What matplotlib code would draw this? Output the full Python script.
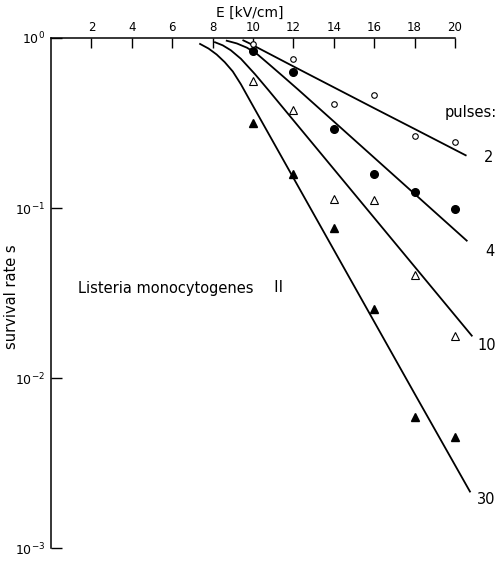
import numpy as np
import matplotlib.pyplot as plt
from matplotlib.ticker import NullLocator

# 测量点：电场强度 E 和存活率 s
e_meas = [10, 12, 14, 16, 18, 20]
s_2 = [0.92, 0.75, 0.41, 0.46, 0.265, 0.245]
s_4 = [0.84, 0.63, 0.293, 0.158, 0.124, 0.098]
s_10 = [0.556, 0.377, 0.113, 0.111, 0.0404, 0.0177]
s_30 = [0.315, 0.158, 0.076, 0.0254, 0.00587, 0.00448]

# 拟合曲线（log10 s）
fit_e_2 = [9.52, 9.8, 10.1, 12, 14, 16, 18, 20.53]
fit_log_2 = [-0.014, -0.030, -0.049, -0.167, -0.290, -0.413, -0.535, -0.690]
fit_e_4 = [8.7, 9.2, 9.7, 10.2, 10.8, 11.5, 12.24, 14, 16, 18, 20.58]
fit_log_4 = [-0.016, -0.032, -0.057, -0.094, -0.155, -0.227, -0.304, -0.491, -0.704, -0.917, -1.192]
fit_e_10 = [8.12, 8.5, 8.9, 9.4, 10.1, 10.76, 12, 14, 16, 18, 20.83]
fit_log_10 = [-0.025, -0.043, -0.072, -0.122, -0.213, -0.306, -0.484, -0.771, -1.058, -1.345, -1.751]
fit_e_30 = [7.38, 7.8, 8.2, 8.6, 9.0, 9.4, 9.85, 12, 14, 16, 18, 20.74]
fit_log_30 = [-0.035, -0.062, -0.097, -0.142, -0.197, -0.272, -0.368, -0.823, -1.246, -1.669, -2.092, -2.668]

pulse_labels = ["2", "4", "10", "30"]

W, H = 497, 563
fig = plt.figure(figsize=(W / 100, H / 100), dpi=100)
ax = fig.add_axes([51 / W, 1 - 548 / H, (455 - 51) / W, (548 - 38) / H])

ax.set_yscale("log")
ax.set_xlim(0, 20)
ax.set_ylim(1e-3, 1)

# 只保留左边和上边的坐标轴
ax.spines["right"].set_visible(False)
ax.spines["bottom"].set_visible(False)
ax.spines["left"].set_linewidth(1.1)
ax.spines["top"].set_linewidth(1.1)

ax.xaxis.tick_top()
ax.set_xticks(range(2, 21, 2))
ax.tick_params(axis="x", direction="in", length=7, width=1, labelsize=8.5, pad=3)
ax.set_yticks([1e-3, 1e-2, 1e-1, 1])
ax.set_yticklabels(["$10^{-3}$", "$10^{-2}$", "$10^{-1}$", "$10^{0}$"])
ax.yaxis.set_minor_locator(NullLocator())
ax.tick_params(axis="y", direction="in", length=8, width=1, labelsize=9, pad=4)

# 曲线
for e, lg in [(fit_e_2, fit_log_2), (fit_e_4, fit_log_4),
              (fit_e_10, fit_log_10), (fit_e_30, fit_log_30)]:
    ax.plot(e, np.power(10.0, lg), color="black", lw=1.3, clip_on=False, zorder=2)

# 数据点
ax.plot(e_meas, s_2, "o", ms=4, mfc="white", mec="black", mew=0.8, zorder=3, clip_on=False)
ax.plot(e_meas, s_4, "o", ms=5.5, mfc="black", mec="black", zorder=3, clip_on=False)
ax.plot(e_meas, s_10, "^", ms=5.5, mfc="white", mec="black", mew=0.8, zorder=3, clip_on=False)
ax.plot(e_meas, s_30, "^", ms=5.5, mfc="black", mec="black", zorder=3, clip_on=False)

# 文字
fig.text(250 / W, 1 - 13 / H, "E [kV/cm]", ha="center", va="center", fontsize=10)
fig.text(12 / W, 1 - 297 / H, "survival rate s", rotation=90,
         ha="center", va="center", fontsize=10.5)
fig.text(78 / W, 1 - 288 / H, "Listeria monocytogenes", ha="left", va="center", fontsize=10.5)
fig.text(278 / W, 1 - 288 / H, "Ⅱ", ha="center", va="center", fontsize=11,
         family=["Noto Sans CJK JP", "DejaVu Sans"])
fig.text(445 / W, 1 - 113 / H, "pulses:", ha="left", va="center", fontsize=10.5)
for lab, xpx, ypx in zip(pulse_labels, [484, 485, 477, 477], [158, 252, 345, 500]):
    fig.text(xpx / W, 1 - ypx / H, lab, ha="left", va="center", fontsize=10.5)

fig.savefig("out.png", dpi=100)
